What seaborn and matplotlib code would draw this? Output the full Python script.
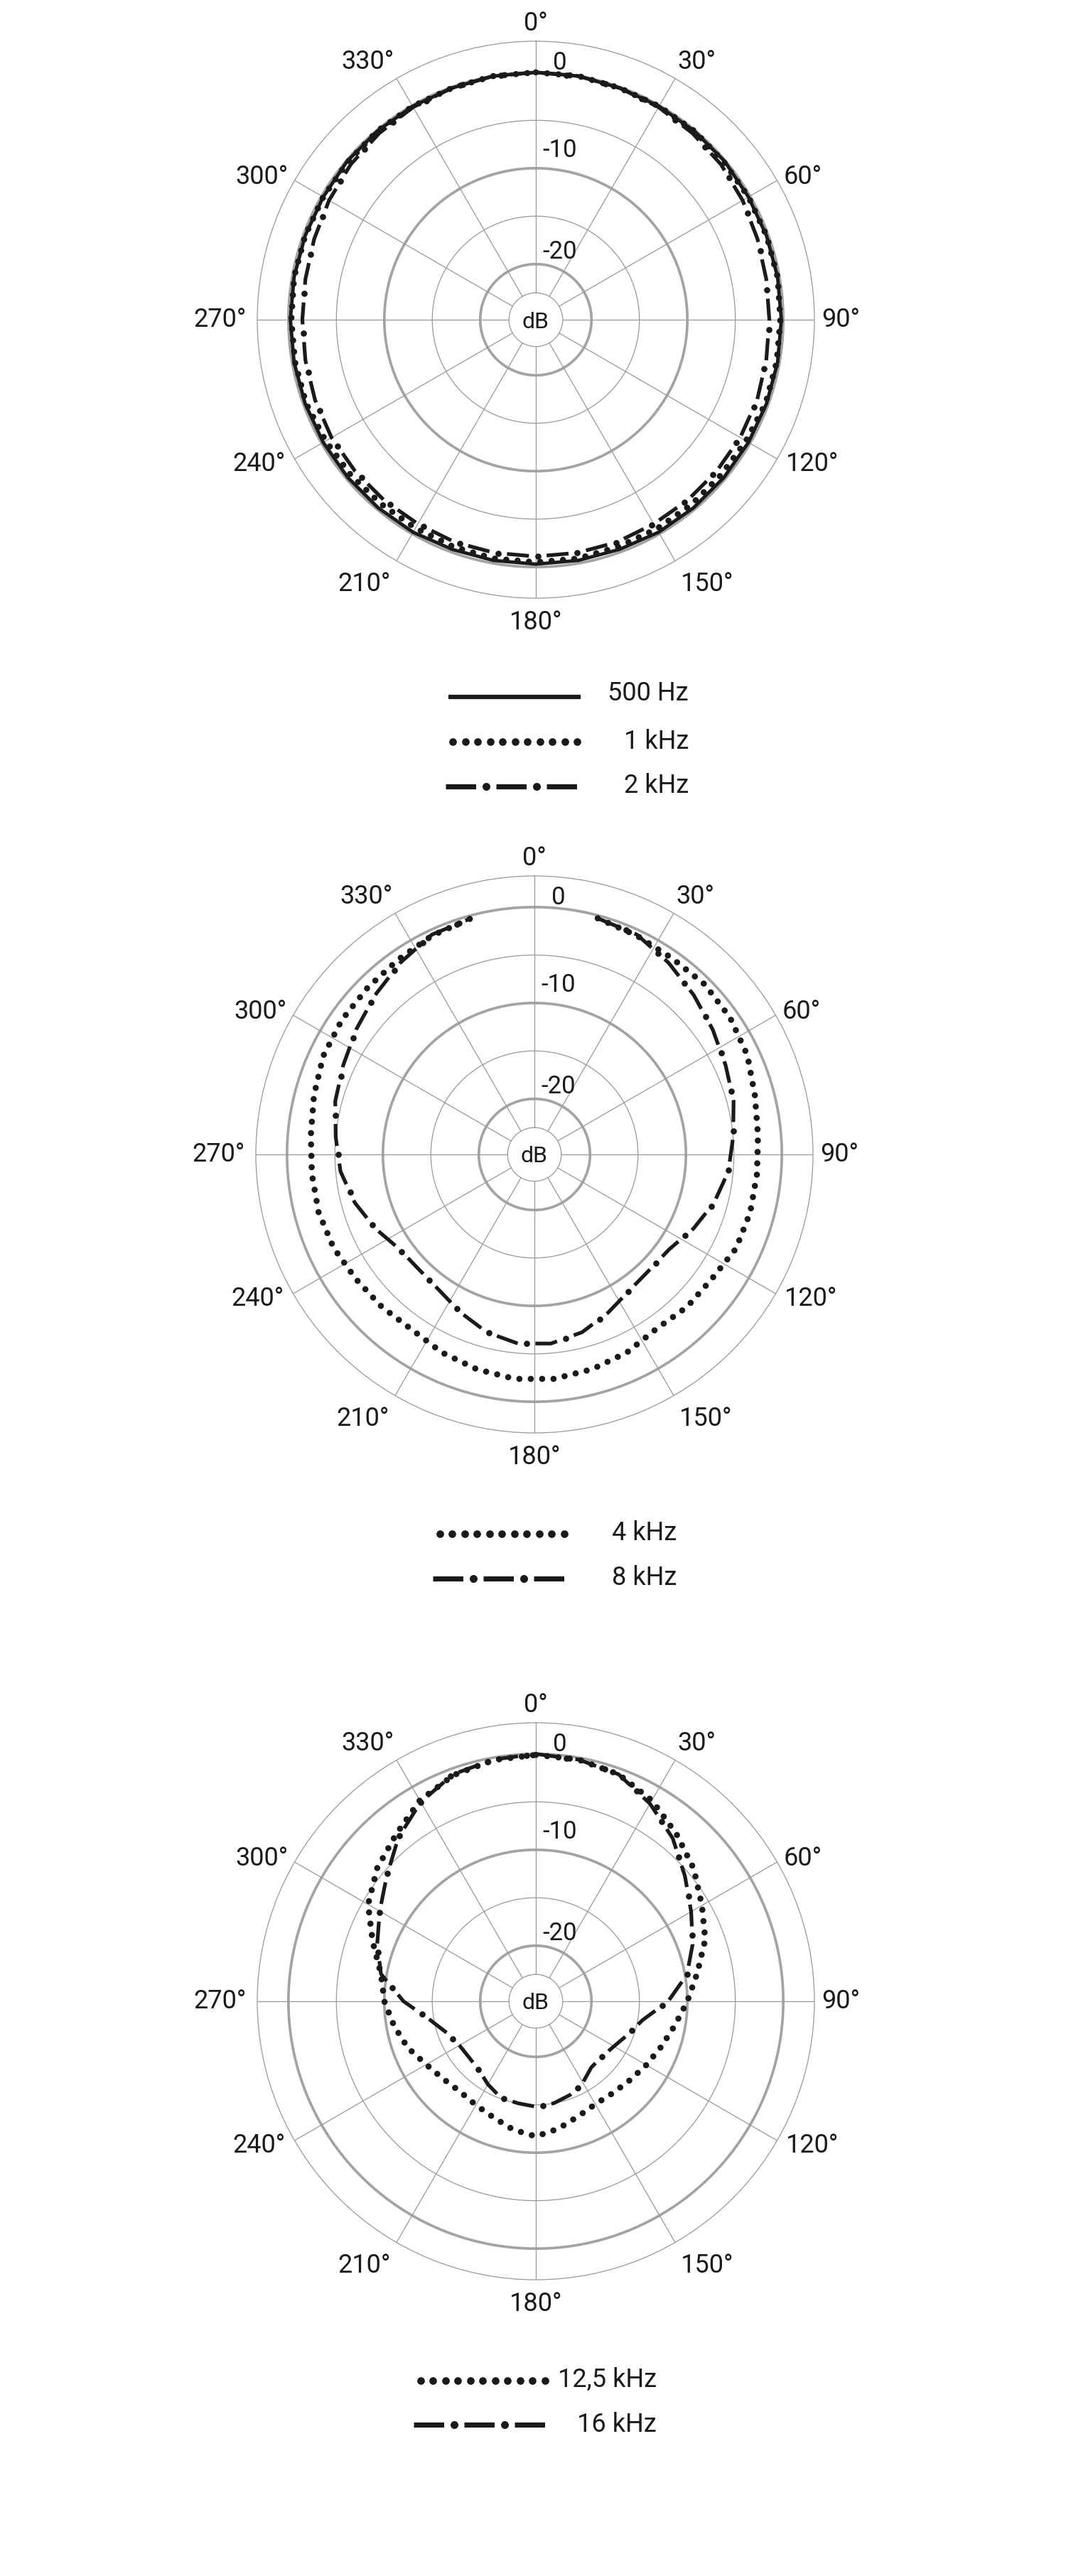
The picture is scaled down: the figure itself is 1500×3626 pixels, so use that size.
import numpy as np
import matplotlib
matplotlib.use("Agg")
import matplotlib.pyplot as plt
import seaborn as sns

# ---------------------------
# Chart data (dB re 0°)
# ---------------------------

angle_ticks = [0, 30, 60, 90, 120, 150, 180, 210, 240, 270, 300, 330]
angle_labels = ["0°", "30°", "60°", "90°", "120°", "150°",
                "180°", "210°", "240°", "270°", "300°", "330°"]
ring_labels = ["0", "-10", "-20"]

# closed curves are sampled every 10° (0..360), the open ones 15..345
angles_closed = list(range(0, 361, 10))
angles_open = list(range(15, 346, 10))

resp_500hz = [0.0, 0.0, -0.1, -0.1, -0.1, -0.1, -0.2, -0.2, -0.2, -0.2,
              -0.2, -0.2, -0.2, -0.2, -0.2, -0.2, -0.3, -0.3, -0.3,
              -0.3, -0.3, -0.2, -0.2, -0.2, -0.2, -0.2, -0.2, -0.2,
              -0.2, -0.2, -0.2, -0.1, -0.1, -0.1, -0.1, 0.0, 0.0]
resp_1khz = [0.0, 0.0, -0.1, -0.1, -0.1, -0.2, -0.2, -0.2, -0.2, -0.3,
             -0.3, -0.3, -0.5, -0.6, -0.6, -0.6, -0.6, -0.5, -0.5,
             -0.5, -0.6, -0.7, -0.7, -0.6, -0.5, -0.3, -0.3, -0.3,
             -0.2, -0.2, -0.2, -0.2, -0.1, -0.1, -0.1, 0.0, 0.0]
resp_2khz = [0.0, 0.0, -0.1, -0.2, -0.4, -0.6, -0.9, -1.2, -1.4, -1.45,
             -1.4, -1.25, -1.2, -1.2, -1.2, -1.2, -1.1, -1.1, -1.1,
             -1.1, -1.1, -1.2, -1.2, -1.2, -1.2, -1.3, -1.4, -1.45,
             -1.4, -1.2, -0.9, -0.6, -0.4, -0.2, -0.1, 0.0, 0.0]

resp_4khz = [-0.3, -0.6, -0.8, -0.7, -0.9, -1.3, -2.0, -2.4, -2.5, -2.5,
             -2.6, -3.2, -3.3, -3.6, -3.0, -2.6, -2.3,
             -2.3, -2.6, -3.0, -3.5, -3.3, -3.1, -2.7, -2.5, -2.5,
             -2.4, -2.0, -1.5, -1.3, -1.2, -1.0, -0.6, -0.3]
resp_8khz = [-0.3, -0.5, -1.4, -2.3, -3.1, -3.8, -4.3, -5.0, -5.5, -6.4,
             -7.5, -8.6, -8.8, -8.5, -7.6, -6.6, -6.0,
             -6.0, -6.6, -7.6, -8.5, -8.8, -8.6, -7.5, -6.4, -5.5,
             -5.0, -4.3, -3.8, -3.1, -2.3, -1.4, -0.5, -0.3]

resp_12k5hz = [-0.1, -0.2, -0.6, -1.6, -3.0, -4.3, -5.8, -7.0, -8.7, -10.0,
               -11.1, -11.9, -12.5, -13.0, -13.3, -13.4, -13.0, -12.3, -11.7,
               -12.2, -12.9, -13.3, -13.5, -13.2, -12.6, -11.6, -10.8, -10.0,
               -9.4, -7.7, -5.6, -4.2, -3.1, -1.6, -0.7, -0.25, -0.1]
resp_16khz = [0.0, -0.2, -0.6, -2.0, -3.6, -5.5, -7.1, -8.4, -9.8, -12.0,
              -14.5, -15.6, -16.4, -16.8, -16.8, -16.0, -15.4, -15.0, -14.8,
              -15.0, -15.1, -15.8, -16.5, -16.7, -16.6, -16.0, -14.6, -12.0,
              -9.4, -8.2, -7.0, -5.5, -3.5, -1.8, -0.6, -0.2, 0.0]

legend1_labels = ["500 Hz", "1 kHz", "2 kHz"]
legend2_labels = ["4 kHz", "8 kHz"]
legend3_labels = ["12,5 kHz", "16 kHz"]

# ---------------------------
# Style
# ---------------------------

sns.set_style("white")
plt.rcParams["font.family"] = ["Roboto", "DejaVu Sans"]
plt.rcParams["lines.scale_dashes"] = False

INK = "#1a1a1a"
GRID_THIN = "#9c9c9c"
GRID_THICK = "#a3a3a3"
PT = 0.72           # points per pixel at dpi 100

R_MIN, R_MAX = -25.8, 3.25
R_INNER = -23.0
THICK_RINGS = [0, -10, -20]
THIN_RINGS = [-5, -15, R_INNER]


def px(v):
    return v * PT


def draw_grid(ax):
    full = np.linspace(0, 2 * np.pi, 721)
    for r in THIN_RINGS:
        ax.plot(full, np.full_like(full, r), color=GRID_THIN, lw=px(1.3), zorder=1)
    for r in THICK_RINGS:
        ax.plot(full, np.full_like(full, r), color=GRID_THICK, lw=px(3.7), zorder=1)
    for t in angle_ticks:
        rad = np.deg2rad(t)
        ax.plot([rad, rad], [R_INNER, R_MAX], color=GRID_THIN, lw=px(1.3), zorder=1)

    for t, lab in zip(angle_ticks, angle_labels):
        rad = np.deg2rad(t)
        s, c = np.sin(rad), np.cos(rad)
        ha = "left" if s > 0.1 else ("right" if s < -0.1 else "center")
        if c > 0.6:
            va, pad = "bottom", 0.5
        elif c < -0.6:
            va, pad = "top", 1.2
        else:
            va, pad = "center", (0.75 if c >= 0 else 1.1)
        ax.text(rad, R_MAX + pad, lab, ha=ha, va=va, fontsize=26,
                color=INK, clip_on=False)

    for lab, r in zip(ring_labels, [0.3, -8.8, -19.4]):
        ax.annotate(lab, xy=(0, r), xytext=(px(34), 0),
                    textcoords="offset points", ha="center", va="baseline",
                    fontsize=25, color=INK)
    ax.text(0, R_MIN, "dB", ha="center", va="center_baseline",
            fontsize=23, color=INK)


def new_polar(fig, cx, cy):
    W, H = 1500, 3626
    rad_px = 392
    ax = fig.add_axes([(cx - rad_px) / W, 1 - (cy + rad_px) / H,
                       2 * rad_px / W, 2 * rad_px / H], projection="polar")
    ax.set_theta_zero_location("N")
    ax.set_theta_direction(-1)
    ax.grid(False)
    ax.set_xticks([])
    ax.set_yticks([])
    ax.spines["polar"].set_color(GRID_THIN)
    ax.spines["polar"].set_linewidth(px(1.3))
    draw_grid(ax)
    ax.set_ylim(R_MIN, R_MAX)
    return ax


def points_along(ax, ang, vals, start, period):
    """Positions (in data space) spaced `period` px along the drawn curve."""
    pts = ax.transData.transform(np.column_stack([np.deg2rad(ang), vals]))
    seg = np.hypot(*np.diff(pts, axis=0).T)
    cum = np.concatenate([[0.0], np.cumsum(seg)])
    s = np.arange(start, cum[-1] - 4, period)
    xy = np.column_stack([np.interp(s, cum, pts[:, 0]),
                          np.interp(s, cum, pts[:, 1])])
    back = ax.transData.inverted().transform(xy)
    return back[:, 0], back[:, 1]


def solid_curve(ax, ang, vals):
    sns.lineplot(x=np.deg2rad(ang), y=vals, ax=ax, color=INK,
                 lw=px(4.8), zorder=3)
    ax.set_ylim(R_MIN, R_MAX)


def dotted_curve(ax, ang, vals):
    sns.lineplot(x=np.deg2rad(ang), y=vals, ax=ax, color=INK,
                 lw=px(8.7), linestyle=(0, (0.01, px(16))),
                 dash_capstyle="round", zorder=3)
    ax.set_ylim(R_MIN, R_MAX)


def dashdot_curve(ax, ang, vals):
    sns.lineplot(x=np.deg2rad(ang), y=vals, ax=ax, color=INK, lw=px(5.2),
                 linestyle=(0, (px(31), px(25))), dash_capstyle="butt",
                 zorder=3)
    ax.set_ylim(R_MIN, R_MAX)
    tx, ty = points_along(ax, ang, vals, 43.5, 56)
    ax.plot(tx, ty, ls="none", marker="o", ms=px(8.7), mew=0,
            color=INK, zorder=3)


# ---------------------------
# Figure
# ---------------------------

fig = plt.figure(figsize=(15, 36.26), dpi=100)

ax1 = new_polar(fig, 754, 450)
solid_curve(ax1, angles_closed, resp_500hz)
dotted_curve(ax1, angles_closed, resp_1khz)
dashdot_curve(ax1, angles_closed, resp_2khz)

ax2 = new_polar(fig, 752, 1625)
dotted_curve(ax2, angles_open, resp_4khz)
dashdot_curve(ax2, angles_open, resp_8khz)

ax3 = new_polar(fig, 754, 2817)
dotted_curve(ax3, angles_closed, resp_12k5hz)
dashdot_curve(ax3, angles_closed, resp_16khz)

for ax in (ax1, ax2, ax3):
    ax.set_xlabel("")
    ax.set_ylabel("")
    ax.set_ylim(R_MIN, R_MAX)

# ---------------------------
# Legends (pixel space overlay)
# ---------------------------

lg = fig.add_axes([0, 0, 1, 1])
lg.set_xlim(0, 1500)
lg.set_ylim(3626, 0)
lg.axis("off")
lg.patch.set_alpha(0)


def leg_solid(x0, x1, y):
    lg.plot([x0, x1], [y, y], color=INK, lw=px(6.2), solid_capstyle="butt")


def leg_dots(x0, x1, y):
    xs = np.linspace(x0, x1, 11)
    lg.plot(xs, np.full_like(xs, y), ls="none", marker="o", ms=px(10.7),
            mew=0, color=INK)


def leg_dashdot(x0, x1, y):
    lg.plot([x0, x1], [y, y], color=INK, lw=px(7.2),
            linestyle=(0, (px(42.5), px(28.5))), dash_capstyle="butt")
    xd = np.array([x0 + 57, x0 + 128])
    lg.plot(xd, np.full_like(xd, y), ls="none", marker="o", ms=px(11),
            mew=0, color=INK)


def leg_text(x, y, s):
    lg.text(x, y, s, ha="right", va="baseline", fontsize=26, color=INK)


leg_solid(631, 817, 981)
leg_dots(637, 812, 1044)
leg_dashdot(627, 812, 1107)
for lab, yb in zip(legend1_labels, [986, 1054, 1116]):
    leg_text(969, yb, lab)

leg_dots(618.5, 793.5, 2159)
leg_dashdot(609, 794, 2222)
for lab, yb in zip(legend2_labels, [2168, 2231]):
    leg_text(952, yb, lab)

leg_dots(591.5, 767, 3351)
leg_dashdot(582, 767, 3413)
for lab, yb in zip(legend3_labels, [3360, 3423]):
    leg_text(924, yb, lab)

fig.savefig("out.png", dpi=100, facecolor="white")
